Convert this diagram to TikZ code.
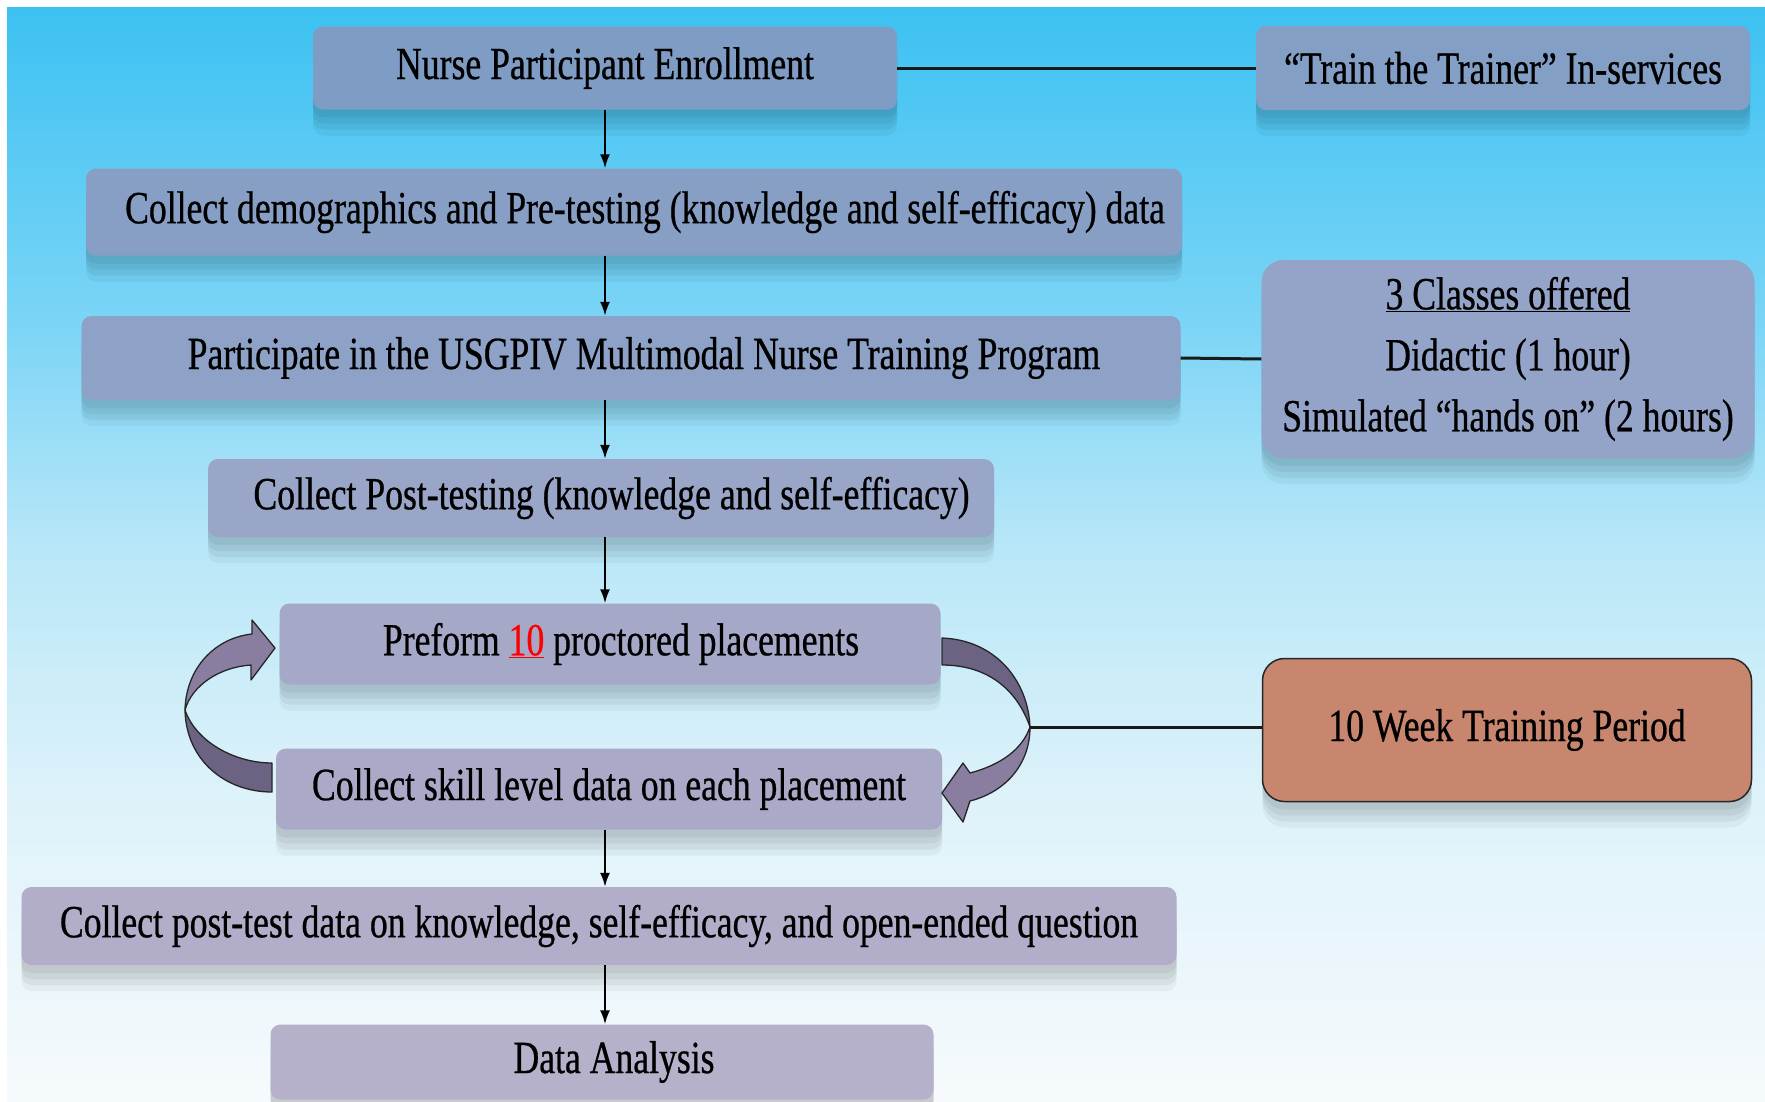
\documentclass[tikz,border=0pt]{standalone}
\usepackage{fontspec}
\setmainfont[FakeStretch=0.775,FakeBold=0.6]{Liberation Serif}
\usetikzlibrary{arrows.meta,calc,shadows}

\definecolor{bgA}{RGB}{60,193,242}
\definecolor{bgB}{RGB}{125,213,246}
\definecolor{bgC}{RGB}{185,231,248}
\definecolor{bgE}{RGB}{222,242,250}
\definecolor{bgD}{RGB}{246,250,252}
\definecolor{cNurse}{RGB}{127,156,196}
\definecolor{cTrain}{RGB}{132,159,198}
\definecolor{cDemo}{RGB}{136,159,197}
\definecolor{cPart}{RGB}{141,162,198}
\definecolor{cClass}{RGB}{147,164,200}
\definecolor{cPost}{RGB}{154,166,200}
\definecolor{cPref}{RGB}{166,168,200}
\definecolor{cSkill}{RGB}{170,169,200}
\definecolor{cFinal}{RGB}{178,174,201}
\definecolor{cData}{RGB}{182,177,202}
\definecolor{tenfill}{RGB}{201,134,111}
\definecolor{loopdark}{RGB}{108,98,130}
\definecolor{looplight}{RGB}{138,126,160}

\pgfdeclareverticalshading{bgshade}{100bp}{color(0bp)=(bgD); color(25bp)=(bgD); color(38.8bp)=(bgE); color(50.2bp)=(bgC); color(60.2bp)=(bgB); color(75bp)=(bgA); color(100bp)=(bgA)}

\tikzset{
  softshadow/.style={
    general shadow={draw=none, fill=black, fill opacity=0.05, shadow yshift=-8pt},
    general shadow={draw=none, fill=black, fill opacity=0.05, shadow yshift=-14pt},
    general shadow={draw=none, fill=black, fill opacity=0.05, shadow yshift=-20pt},
    general shadow={draw=none, fill=black, fill opacity=0.04, shadow yshift=-26pt}},
  box/.style={rounded corners=10pt, inner sep=0pt, anchor=center, text=black,
    font=\fontsize{46}{55}\selectfont, softshadow},
  varrow/.style={line width=2pt, -{Latex[length=14pt,width=10pt]}},
  link/.style={line width=3pt, draw=black!90},
  loopline/.style={draw=black!85, line width=1.3pt, line join=round}
}

\begin{document}
\begin{tikzpicture}[x=1pt,y=-1pt]
\useasboundingbox (0,0) rectangle (1765,1101);
\clip (0,0) rectangle (1765,1101);
\fill[white] (0,0) rectangle (1765,1101);
\shade[shading=bgshade] (7,7) rectangle (1765,1101);

% boxes
\node[box, fill=cNurse, minimum width=584pt, minimum height=83pt] (nurse) at (605,68) {Nurse Participant Enrollment};
\node[box, fill=cTrain, minimum width=494pt, minimum height=84pt] (train) at (1503,68) {“Train the Trainer” In-services};
\node[box, fill=cDemo, minimum width=1096pt, minimum height=87pt] (demo) at (634,212) {\hspace*{22pt}Collect demographics and Pre-testing (knowledge and self-efficacy) data};
\node[box, fill=cPart, minimum width=1099pt, minimum height=84pt] (part) at (631,358) {\hspace*{26pt}Participate in the USGPIV Multimodal Nurse Training Program};
\node[box, fill=cClass, minimum width=493pt, minimum height=198pt, rounded corners=22pt, align=center, font=\fontsize{46}{61}\selectfont] (classes) at (1508,359) {\underline{3 Classes offered}\\Didactic (1 hour)\\Simulated “hands on” (2 hours)};
\node[box, fill=cPost, minimum width=786pt, minimum height=78pt] (posttest) at (601,498) {\hspace*{21pt}Collect Post-testing (knowledge and self-efficacy)};
\node[box, fill=cPref, minimum width=661pt, minimum height=81pt] (perform) at (610,644) {\hspace*{22pt}Preform {\color{red}\underline{10}} proctored placements};
\node[box, fill=cSkill, minimum width=666pt, minimum height=81pt] (skill) at (609,789) {Collect skill level data on each placement};
\node[box, fill=tenfill, draw=black!85, line width=1.5pt, minimum width=489pt, minimum height=143pt, rounded corners=22pt] (ten) at (1507,730) {10 Week Training Period};
\node[box, fill=cFinal, minimum width=1155pt, minimum height=78pt] (final) at (599,926) {Collect post-test data on knowledge, self-efficacy, and open-ended question};
\node[box, fill=cData, minimum width=663pt, minimum height=75pt] (data) at (602,1062) {\hspace*{24pt}Data Analysis};

% vertical arrows
\draw[varrow] (nurse.south) -- (nurse.south |- demo.north);
\draw[varrow] (demo.south -| nurse.south) -- (part.north -| nurse.south);
\draw[varrow] (part.south -| nurse.south) -- (posttest.north -| nurse.south);
\draw[varrow] (posttest.south -| nurse.south) -- (perform.north -| nurse.south);
\draw[varrow] (skill.south -| nurse.south) -- (final.north -| nurse.south);
\draw[varrow] (final.south -| nurse.south) -- (data.north -| nurse.south);

% side links
\draw[link] (nurse.east) -- (train.west);
\draw[link] (part.east) -- (classes.west);

% left loop arrow (skill -> perform)
\filldraw[loopline, fill=loopdark] (272,792) .. controls (225,792) and (186,760) .. (185,710)
   .. controls (196,742) and (235,763) .. (272,763) -- cycle;
\filldraw[loopline, fill=looplight] (185,710) .. controls (186,668) and (215,638) .. (252,634)
   -- (252,620) -- (275,648) -- (251,680) -- (251,665)
   .. controls (220,667) and (192,685) .. (185,710) -- cycle;

% right loop arrow (perform -> skill)
\coordinate (loopR) at (1030,727);
\filldraw[loopline, fill=loopdark] (942,638) .. controls (995,640) and (1028,680) .. (loopR)
   .. controls (1018,692) and (990,665) .. (942,665) -- cycle;
\filldraw[loopline, fill=looplight] (loopR) .. controls (1030,765) and (1005,792) .. (970,801)
   -- (963,822) -- (942,793) -- (963,763) -- (970,773)
   .. controls (1000,765) and (1022,750) .. (loopR) -- cycle;

\draw[link] (loopR) -- (loopR -| ten.west);
\end{tikzpicture}
\end{document}
